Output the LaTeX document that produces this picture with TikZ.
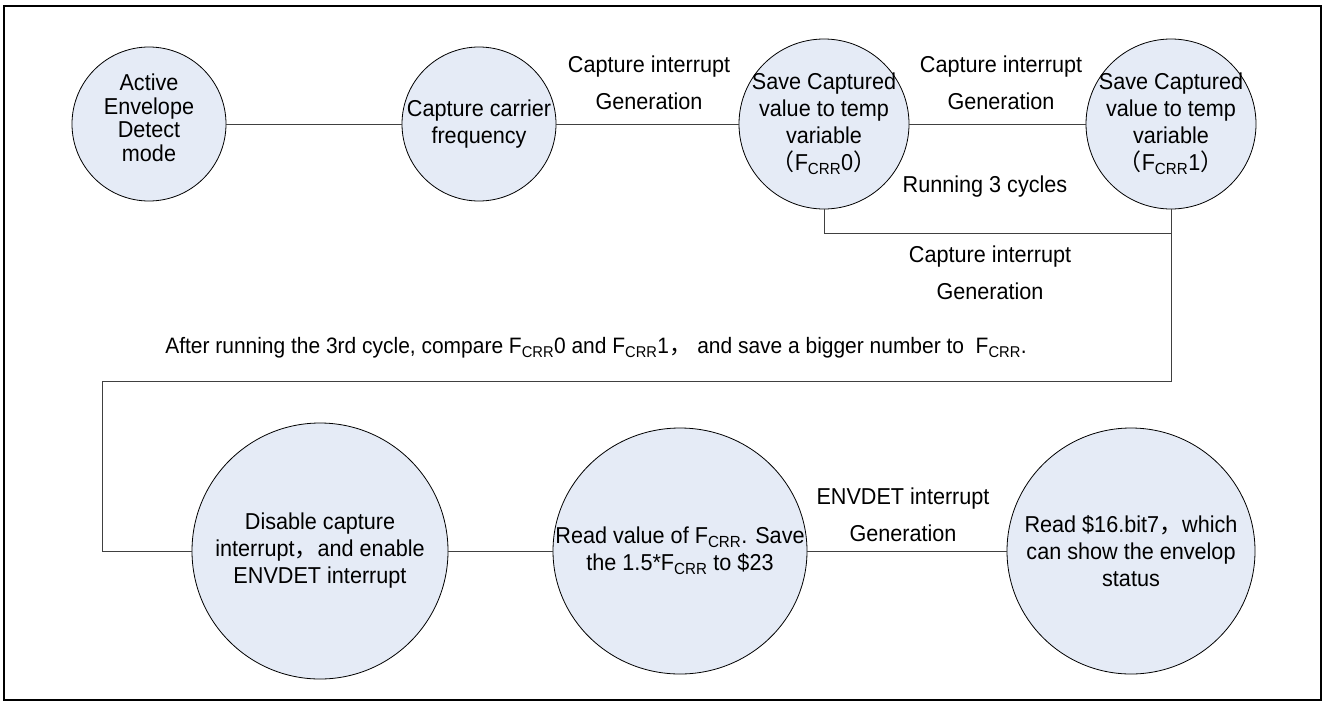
\documentclass[tikz,border=0pt]{standalone}
\usepackage{fontspec}
\setmainfont{Liberation Sans}[FakeStretch=0.94]
\newfontfamily\cjk{Noto Sans CJK SC}
\usepackage{tikz}
\usetikzlibrary{shapes.geometric}
\definecolor{knoten}{HTML}{E5EBF6}
\definecolor{linie}{HTML}{404040}
\newcommand{\Fcrr}{F\textsubscript{CRR}}

\begin{document}
\begin{tikzpicture}[x=1pt, y=-1pt,
    every node/.style={font=\fontsize{23}{27}\selectfont, align=center},
    kreis/.style={ellipse, draw, line width=0.8pt, fill=knoten, inner sep=0pt},
    lab/.style={font=\fontsize{23}{37}\selectfont},
    draht/.style={draw=linie, line width=1pt}]
      \useasboundingbox (0,0) rectangle (1327,704);
      \draw[line width=2pt] (4,6) rectangle (1321,700);
      % first row
      \node[kreis, minimum width=154pt, minimum height=154pt,
        label={[font=\fontsize{23}{23.5}\selectfont, yshift=6pt]center:Active\\Envelope\\Detect\\mode}] (aktiv) at (149,124) {};
      \node[kreis, minimum width=154pt, minimum height=154pt,
        label={center:Capture carrier\\frequency}] (traeger) at (479,124) {};
      \node[kreis, minimum width=170pt, minimum height=170pt,
        label={center:Save Captured\\value to temp\\variable\\{\cjk （}\Fcrr0{\cjk ）}}] (fcrr0) at (824,124) {};
      \node[kreis, minimum width=170pt, minimum height=170pt,
        label={center:Save Captured\\value to temp\\variable\\{\cjk （}\Fcrr1{\cjk ）}}] (fcrr1) at (1171,124) {};
      \node[lab] (irq1) at (649,83) {Capture interrupt\\Generation};
      \node[lab] (irq2) at (1001,83) {Capture interrupt\\Generation};
      \node[lab] (zyklen) at (985,187) {Running 3 cycles};
      \node[lab] (irq3) at (990,273) {Capture interrupt\\Generation};
      \draw[draht] (aktiv) -- (traeger);
      \draw[draht] (traeger) -- (fcrr0);
      \draw[draht] (fcrr0) -- (fcrr1);
      \draw[draht] (fcrr0.south) -- ++(0,24) -| (fcrr1.south);
      % compare step
      \node[font=\fontsize{22.3}{27}\selectfont] (hinweis) at (596,348) {After running the 3rd cycle, compare \Fcrr0 and \Fcrr1{\cjk ，} and save a bigger number to\ \ \Fcrr.};
      \coordinate (ecke) at (102,381);
      % second row
      \node[kreis, minimum width=256pt, minimum height=256pt,
        label={center:Disable capture\\interrupt{\cjk ，}and enable\\ENVDET interrupt}] (sperren) at (320,551) {};
      \node[kreis, minimum width=254pt, minimum height=246pt,
        label={center:Read value of \Fcrr. Save\\the 1.5*\Fcrr\ to \$23}] (lesen) at (680,551) {};
      \node[kreis, minimum width=248pt, minimum height=246pt,
        label={center:Read \$16.bit7{\cjk ，}which\\can show the envelop\\status}] (status) at (1131,551) {};
      \node[lab] (irq4) at (903,515) {ENVDET interrupt\\Generation};
      \draw[draht] (fcrr1.south) |- (ecke) |- (sperren.west);
      \draw[draht] (sperren) -- (lesen);
      \draw[draht] (lesen) -- (status);
    \end{tikzpicture}
\end{document}
